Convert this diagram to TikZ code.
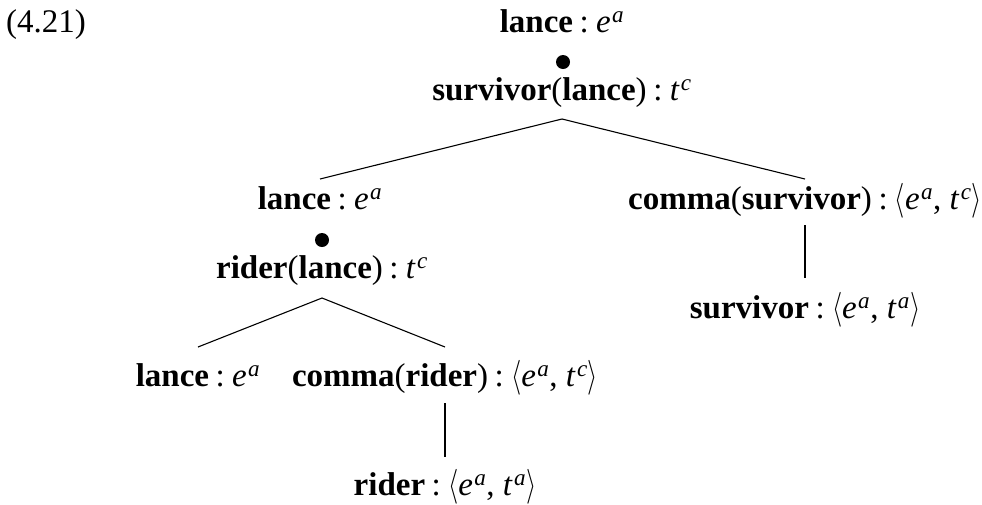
\documentclass[tikz,border=0pt]{standalone}
\usepackage{fontspec}
\usepackage{graphicx}
\setmainfont{Liberation Serif}
\newcommand{\tp}[2]{\textit{#1}\textsuperscript{\itshape\hspace{0.06em}#2}}
\newcommand{\col}{\hspace{0.2em}:\hspace{0.22em}}
\newcommand{\lang}{\scalebox{1.05}[1.4]{$\langle$}}
\newcommand{\rang}{\scalebox{1.05}[1.4]{$\rangle$}}
\newcommand{\pair}[4]{\lang\tp{#1}{#2}, \tp{#3}{#4}\rang}
\tikzset{
  lbl/.style={anchor=base, inner sep=0pt, font=\fontsize{33}{40}\selectfont},
  edge/.style={line width=1.1pt},
  vedge/.style={line width=1.7pt},
  dot/.style={circle, fill=black, inner sep=0pt, minimum size=14pt}
}
\begin{document}
\begin{tikzpicture}[x=1pt,y=-1pt]
\useasboundingbox (0,0) rectangle (982,504);
% labels
\node[lbl, anchor=base west] (num) at (6,32) {(4.21)};
\node[lbl] (top) at (562,32) {\textbf{lance}\col\tp{e}{a}};
\node[dot] (dotA) at (563,62) {};
\node[lbl] (surv) at (562,100) {\textbf{survivor}(\textbf{lance})\col\tp{t}{c}};
\node[lbl] (lanceB) at (320,209) {\textbf{lance}\col\tp{e}{a}};
\node[dot] (dotB) at (322,240) {};
\node[lbl] (riderL) at (322,278) {\textbf{rider}(\textbf{lance})\col\tp{t}{c}};
\node[lbl] (commaS) at (805,209) {\textbf{comma}(\textbf{survivor})\col\pair{e}{a}{t}{c}};
\node[lbl] (survB) at (805,318) {\textbf{survivor}\col\pair{e}{a}{t}{a}};
\node[lbl] (lanceC) at (198,386) {\textbf{lance}\col\tp{e}{a}};
\node[lbl] (commaR) at (445,386) {\textbf{comma}(\textbf{rider})\col\pair{e}{a}{t}{c}};
\node[lbl] (riderB) at (445,495) {\textbf{rider}\col\pair{e}{a}{t}{a}};
% connectors
\draw[edge] ([yshift=-19pt]surv.base) -- ([yshift=30pt]lanceB.base);
\draw[edge] ([yshift=-19pt]surv.base) -- ([yshift=30pt]commaS.base);
\draw[vedge] ([yshift=-16pt]commaS.base) -- ([yshift=40pt]survB.base);
\draw[edge] ([yshift=-20pt]riderL.base) -- ([yshift=39pt]lanceC.base);
\draw[edge] ([yshift=-20pt]riderL.base) -- ([yshift=39pt]commaR.base);
\draw[vedge] ([yshift=-17pt]commaR.base) -- ([yshift=38pt]riderB.base);
\end{tikzpicture}
\end{document}
